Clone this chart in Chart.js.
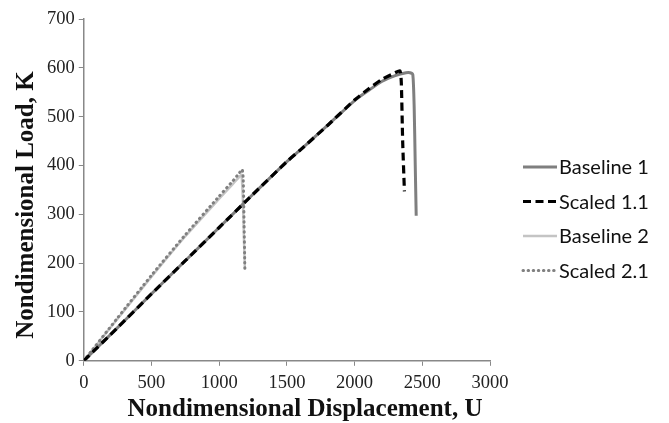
<!DOCTYPE html>
<html>
<head>
<meta charset="utf-8">
<script src="https://cdn.jsdelivr.net/npm/chart.js@4"></script>
<style>
  html, body { margin: 0; padding: 0; background: #fff; }
  #wrap { width: 669px; height: 423px; }
</style>
</head>
<body>
<div id="wrap"><canvas id="loadChart" width="669" height="423"></canvas></div>
<script>
// series values (displacement U, load K)
const baseline1U = [0, 250, 500, 750, 1000, 1250, 1500, 1600, 1800, 2000, 2100, 2200, 2300, 2380, 2410, 2430, 2440, 2448, 2455];
const baseline1K = [0, 68, 137, 205, 273, 341, 408, 432, 482, 533, 553, 572, 584, 590, 590, 586, 520, 400, 297];

const scaled11U = [0, 250, 500, 750, 1000, 1250, 1500, 1600, 1800, 2000, 2100, 2200, 2300, 2335, 2345, 2355, 2368];
const scaled11K = [0, 68, 137, 205, 273, 341, 408, 432, 482, 534, 556, 576, 590, 594, 570, 450, 347];

const baseline2U = [0, 250, 500, 750, 1000, 1100, 1150, 1165, 1175, 1183, 1190];
const baseline2K = [0, 86, 172, 255, 332, 362, 377, 381, 330, 250, 187];

const scaled21U = [0, 250, 500, 750, 1000, 1100, 1150, 1170, 1178, 1184, 1190];
const scaled21K = [0, 88, 175, 258, 337, 368, 385, 392, 370, 280, 187];

const seriesNames = ['Baseline 1', 'Scaled 1.1', 'Baseline 2', 'Scaled 2.1'];
const xTicks = [0, 500, 1000, 1500, 2000, 2500, 3000];
const yTicks = [0, 100, 200, 300, 400, 500, 600, 700];
const xTitle = 'Nondimensional Displacement, U';
const yTitle = 'Nondimensional Load, K';

const titleFont = 'bold 25px "Liberation Serif"';

const toPoints = (us, ks) => us.map((u, i) => ({ x: u, y: ks[i] }));

// legend + axis titles drawn by hand so they sit where Excel put them
const sidePlugin = {
    id: 'sideLegend',
    afterDraw(chart) {
        const ctx = chart.ctx;
        const left = chart.chartArea.right + 33;
        ctx.save();
        chart.data.datasets.forEach((ds, i) => {
            const y = 167 + i * 34.5;
            ctx.beginPath();
            ctx.strokeStyle = ds.borderColor;
            ctx.lineWidth = ds.borderWidth;
            ctx.lineCap = ds.borderCapStyle || 'butt';
            ctx.setLineDash(ds.borderDash || []);
            ctx.moveTo(left, y);
            ctx.lineTo(left + 34, y);
            ctx.stroke();
            ctx.setLineDash([]);
            ctx.fillStyle = '#111';
            ctx.font = '20px Lato';
            ctx.textBaseline = 'middle';
            ctx.fillText(ds.label, left + 36, y + 1);
        });

        ctx.fillStyle = '#111';
        ctx.font = titleFont;
        ctx.textAlign = 'center';
        ctx.textBaseline = 'middle';
        ctx.fillText(xTitle, 305, 410);

        ctx.translate(27, 205);
        ctx.rotate(-Math.PI / 2);
        ctx.fillText(yTitle, 0, 0);
        ctx.restore();
    }
};

new Chart('loadChart', {
    type: 'line',
    data: {
        datasets: [
            { label: seriesNames[0], data: toPoints(baseline1U, baseline1K), borderColor: '#7f7f7f', borderWidth: 3, order: 2 },
            { label: seriesNames[1], data: toPoints(scaled11U, scaled11K), borderColor: '#000000', borderWidth: 3.2, borderDash: [8, 4.5], order: 0 },
            { label: seriesNames[2], data: toPoints(baseline2U, baseline2K), borderColor: '#c4c4c4', borderWidth: 2.5, order: 3 },
            { label: seriesNames[3], data: toPoints(scaled21U, scaled21K), borderColor: '#808080', borderWidth: 3, borderDash: [0.5, 4.6], borderCapStyle: 'round', order: 1 }
        ]
    },
    options: {
        responsive: false,
        animation: false,
        elements: { point: { radius: 0 }, line: { tension: 0.2, fill: false } },
        layout: { padding: { top: 19, right: 179, bottom: 23, left: 43 } },
        plugins: { legend: { display: false }, tooltip: { enabled: false } },
        scales: {
            x: {
                type: 'linear',
                min: 0, max: 3000,
                afterBuildTicks: axis => { axis.ticks = xTicks.map(v => ({ value: v })); },
                ticks: { color: '#222', font: { family: 'Liberation Serif', size: 18.5 }, padding: 6, maxRotation: 0,
                         callback: v => String(v) },
                grid: { drawOnChartArea: false, drawTicks: true, tickLength: 5, color: '#888' },
                border: { color: '#888', width: 1.5 }
            },
            y: {
                min: 0, max: 700,
                afterBuildTicks: axis => { axis.ticks = yTicks.map(v => ({ value: v })); },
                ticks: { color: '#222', font: { family: 'Liberation Serif', size: 18.5 }, padding: 4,
                         callback: v => String(v) },
                grid: { drawOnChartArea: false, drawTicks: true, tickLength: 5, color: '#888' },
                border: { color: '#888', width: 1.5 }
            }
        }
    },
    plugins: [sidePlugin]
});
</script>
</body>
</html>
